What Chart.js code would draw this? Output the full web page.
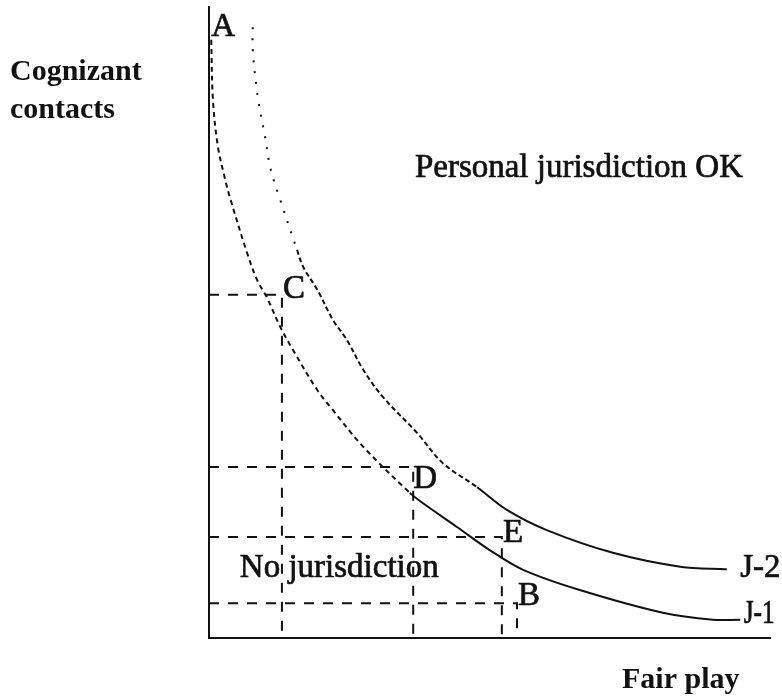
<!DOCTYPE html>
<html>
<head>
<meta charset="utf-8">
<script src="https://cdn.jsdelivr.net/npm/chart.js@4.4.1/dist/chart.umd.min.js"></script>
<style>
  html, body { margin: 0; padding: 0; background: #fff; }
  #wrap { width: 782px; height: 700px; }
</style>
</head>
<body>
<div id="wrap"><canvas id="c" width="782" height="700"></canvas></div>
<script>
// Curve J-1 (lower indifference curve), x = fair play, y = cognizant contacts
const j1X = [0.4, 0.7, 1.6, 2.9, 3.7, 6.8, 8.6, 10.3, 12.7, 15.0, 19.3, 22.1, 27.5, 35.8, 38.1, 44.2, 50.1, 56.0, 66.1, 80.9, 89.8, 94.7];
const j1Y = [94.8, 85.3, 77.8, 72.6, 69.9, 61.0, 56.7, 54.0, 49.3, 45.6, 39.3, 36.1, 30.3, 23.0, 21.4, 17.6, 13.9, 10.8, 7.6, 4.0, 2.9, 2.9];
// Curve J-2 (upper curve)
const j2X = [7.8, 7.8, 8.7, 10.0, 10.9, 12.3, 15.7, 16.8, 19.3, 22.1, 24.6, 27.5, 31.0, 37.1, 41.7, 47.8, 53.1, 60.2, 72.0, 84.0, 92.3];
const j2Y = [96.8, 93.2, 85.7, 79.4, 74.6, 70.5, 61.5, 58.8, 55.2, 50.4, 47.2, 42.5, 38.2, 32.5, 27.7, 23.9, 20.3, 17.1, 13.5, 11.3, 10.9];
// Dashed guide lines: point names and their (fair play, contacts) corners
const guideNames = ["C", "D", "E", "B"];
const guideX = [13.0, 36.4, 52.2, 54.9];
const guideY = [54.4, 27.1, 16.0, 5.5];
// Point labels
const labelText = ["A", "C", "D", "E", "B", "J-2", "J-1", "Personal jurisdiction OK", "No jurisdiction"];
const labelX = [0.4, 13.2, 36.4, 52.4, 55.1, 94.7, 95.3, 36.7, 5.5];
const labelY = [95.4, 53.9, 23.8, 15.2, 5.2, 9.7, 2.4, 73.1, 9.7];
const yTitle = ["Cognizant", "contacts"];
const xTitle = "Fair play";

const toPts = (xs, ys) => xs.map((x, i) => ({x: x, y: ys[i]}));

const datasets = [];
datasets.push({
  label: "J-1",
  data: toPts(j1X, j1Y),
  showLine: true, borderColor: "#111", borderWidth: 2, pointRadius: 0, tension: 0.35,
  segment: { borderDash: ctx => (ctx.p0.parsed.x < 34 ? [5, 4] : undefined) }
});
datasets.push({
  label: "J-2",
  data: toPts(j2X, j2Y),
  showLine: true, borderColor: "#111", borderWidth: 2, pointRadius: 0, tension: 0.35,
  segment: { borderDash: ctx => (ctx.p0.parsed.x < 15 ? [2, 9] : (ctx.p0.parsed.x < 44 ? [5, 3] : undefined)) }
});
guideNames.forEach((n, i) => {
  datasets.push({
    label: "guide " + n,
    data: [{x: 0, y: guideY[i]}, {x: guideX[i], y: guideY[i]}, {x: guideX[i], y: 0}],
    showLine: true, borderColor: "#111", borderWidth: 2, pointRadius: 0, tension: 0,
    borderDash: [10, 9]
  });
});

const textPlugin = {
  id: "texts",
  beforeDraw(chart) {
    const c = chart.ctx;
    c.save();
    c.fillStyle = "#fff";
    c.fillRect(0, 0, chart.width, chart.height);
    c.restore();
  },
  afterDraw(chart) {
    const c = chart.ctx, xs = chart.scales.x, ys = chart.scales.y, ca = chart.chartArea;
    c.save();
    c.fillStyle = "#111";
    c.strokeStyle = "#111";
    c.lineWidth = 0.7;
    c.textBaseline = "alphabetic";
    c.textAlign = "left";
    c.font = "33px 'Liberation Serif'";
    labelText.forEach((t, i) => {
      const px = xs.getPixelForValue(labelX[i]), py = ys.getPixelForValue(labelY[i]);
      if (t === "J-1") {
        c.fillText(t, px, py, 31);
        c.strokeText(t, px, py, 31);
      } else {
        c.fillText(t, px, py);
        c.strokeText(t, px, py);
      }
    });
    c.font = "bold 30px 'Liberation Serif'";
    c.fillText(yTitle[0], 10, 80);
    c.fillText(yTitle[1], 10, 118);
    c.fillText(xTitle, ca.right - 148, 688);
    c.restore();
  }
};

new Chart(document.getElementById("c"), {
  type: "scatter",
  data: { datasets: datasets },
  options: {
    responsive: false,
    animation: false,
    layout: { padding: { left: 209, right: 12, top: 7, bottom: 62 } },
    plugins: { legend: { display: false }, tooltip: { enabled: false } },
    scales: {
      x: { type: "linear", min: 0, max: 100, ticks: { display: false }, grid: { display: false, drawTicks: false },
           border: { display: true, color: "#111", width: 2 } },
      y: { type: "linear", min: 0, max: 100, ticks: { display: false }, grid: { display: false, drawTicks: false },
           border: { display: true, color: "#111", width: 2 } }
    }
  },
  plugins: [textPlugin]
});
</script>
</body>
</html>
